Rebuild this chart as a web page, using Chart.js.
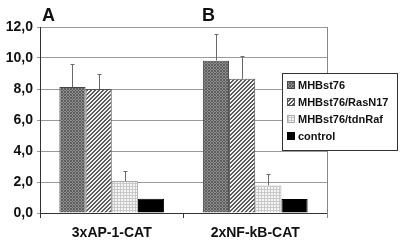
<!DOCTYPE html>
<html><head><meta charset="utf-8">
<script src="https://cdn.jsdelivr.net/npm/chart.js@4/dist/chart.umd.min.js"></script>
<style>html,body{margin:0;padding:0;background:#fff}#wrap{width:400px;height:243px}</style>
</head><body><div id="wrap"><canvas id="c" width="400" height="243"></canvas></div>
<script>
const categories = ['3xAP-1-CAT', '2xNF-kB-CAT'];
const panelLabels = ['A', 'B'];
const seriesNames = ['MHBst76', 'MHBst76/RasN17', 'MHBst76/tdnRaf', 'control'];
const mhbst76 = [8.13, 9.83];
const rasN17 = [8.0, 8.66];
const tdnRaf = [2.06, 1.78];
const control = [0.92, 0.90];
const errMhbst76 = [1.50, 1.72];
const errRasN17 = [0.99, 1.49];
const errTdnRaf = [0.67, 0.74];
const errControl = [0, 0];
const yMin = 0, yMax = 12, yStep = 2;

function makePattern(w, h, fn) {
  const c = document.createElement('canvas');
  c.width = w; c.height = h;
  const g = c.getContext('2d');
  for (let y = 0; y < h; y++) for (let x = 0; x < w; x++) {
    g.fillStyle = fn(x, y); g.fillRect(x, y, 1, 1);
  }
  return g.createPattern(c, 'repeat');
}
const ctx = document.getElementById('c').getContext('2d');
const pat1 = makePattern(3, 3, (x, y) => ((x + y) % 3 === 0 || (x - y + 3) % 3 === 0 ? '#5e5e5e' : '#8e8e8e'));
const pat2 = makePattern(4, 4, (x, y) => ((x + y) % 4 < 2 ? '#5a5a5a' : '#f2f2f2'));
const pat3 = makePattern(3, 3, (x, y) => ((x === 0 || y === 0) ? '#c8c8c8' : '#f6f6f6'));

const values = [mhbst76, rasN17, tdnRaf, control];
const errors = [errMhbst76, errRasN17, errTdnRaf, errControl];
const fills = [pat1, pat2, pat3, '#000000'];
const borders = ['#444444', '#555555', '#aaaaaa', '#000000'];

const FONT = 'Arial, "Liberation Sans", sans-serif';

const extras = {
  id: 'extras',
  afterDatasetsDraw(chart) {
    const g = chart.ctx;
    const ys = chart.scales.y;
    g.save();
    g.strokeStyle = '#6a6a6a';
    g.lineWidth = 1;
    chart.data.datasets.forEach((ds, di) => {
      const meta = chart.getDatasetMeta(di);
      meta.data.forEach((el, i) => {
        const e = errors[di][i];
        if (!e) return;
        const x = Math.round(el.x) + 0.5;
        const yt = Math.round(ys.getPixelForValue(ds.data[i] + e)) + 0.5;
        g.beginPath();
        g.moveTo(x, el.y); g.lineTo(x, yt);
        g.moveTo(x - 2, yt); g.lineTo(x + 2, yt);
        g.stroke();
      });
    });
    g.restore();
  },
  afterDraw(chart) {
    const g = chart.ctx;
    const a = chart.chartArea;
    g.save();
    g.strokeStyle = '#888';
    g.lineWidth = 1;
    g.beginPath();
    g.moveTo(Math.round(a.right) + 0.5, a.top);
    g.lineTo(Math.round(a.right) + 0.5, a.bottom + 5);
    g.stroke();
    g.fillStyle = '#111';
    g.font = 'bold 18px ' + FONT;
    g.textBaseline = 'alphabetic';
    g.textAlign = 'left';
    const panelX = [42, 202];
    panelLabels.forEach((t, i) => g.fillText(t, panelX[i], 21));
    const lx = 282, ly = 73, lw = 115, lh = 77;
    g.fillStyle = '#fff';
    g.fillRect(lx, ly, lw, lh);
    g.strokeStyle = '#333';
    g.strokeRect(lx + 0.5, ly + 0.5, lw, lh);
    g.font = 'bold 11px ' + FONT;
    g.textBaseline = 'middle';
    chart.data.datasets.forEach((ds, i) => {
      const cy = 85 + i * 17;
      g.fillStyle = ds.backgroundColor;
      g.fillRect(287, cy - 4, 8, 8);
      g.strokeStyle = ds.borderColor;
      g.strokeRect(287.5, cy - 3.5, 7, 7);
      g.fillStyle = '#111';
      g.fillText(ds.label, 298, cy + 1);
    });
    g.restore();
  }
};

new Chart(ctx, {
  type: 'bar',
  data: {
    labels: categories,
    datasets: seriesNames.map((n, i) => ({
      label: n,
      data: values[i],
      backgroundColor: fills[i],
      borderColor: borders[i],
      borderWidth: 1,
      categoryPercentage: 0.73,
      barPercentage: 1.0
    }))
  },
  options: {
    responsive: false,
    animation: false,
    devicePixelRatio: 1,
    layout: { padding: { top: 27, right: 73, left: 0, bottom: 0 } },
    plugins: { legend: { display: false }, tooltip: { enabled: false } },
    scales: {
      x: {
        offset: true,
        grid: { display: true, drawOnChartArea: false, drawTicks: true, tickLength: 5, color: '#333', offset: true },
        border: { color: '#333', width: 1 },
        ticks: { color: '#111', font: { family: FONT, size: 14, weight: 'bold' }, padding: 7 },
        afterFit(s) { s.height = 30; }
      },
      y: {
        min: yMin, max: yMax,
        grid: { color: '#9a9a9a', tickLength: 3, drawTicks: true },
        border: { color: '#333', width: 1 },
        ticks: {
          stepSize: yStep,
          color: '#111',
          padding: 4,
          font: { family: FONT, size: 14, weight: 'bold' },
          callback: v => v.toFixed(1).replace('.', ',')
        },
        afterFit(s) { s.width = 40; }
      }
    }
  },
  plugins: [extras]
});
</script>
</body></html>
